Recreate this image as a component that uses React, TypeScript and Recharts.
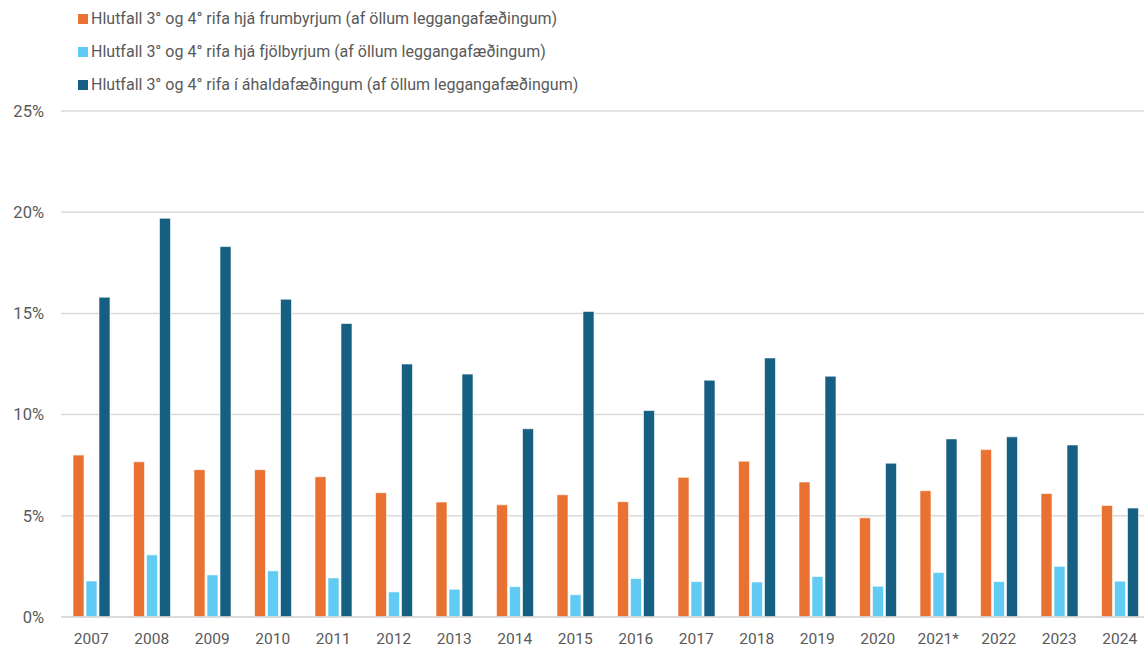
import React from 'react';
import { BarChart, Bar, XAxis, YAxis, CartesianGrid, Legend } from 'recharts';

const years = [
  '2007', '2008', '2009', '2010', '2011', '2012', '2013', '2014', '2015',
  '2016', '2017', '2018', '2019', '2020', '2021*', '2022', '2023', '2024',
];

// Hlutfall 3° og 4° rifa, % af öllum leggangafæðingum
const frumbyrjur = [8.0, 7.67, 7.28, 7.28, 6.93, 6.14, 5.68, 5.54, 6.04, 5.7, 6.9, 7.7, 6.67, 4.9, 6.24, 8.27, 6.1, 5.51];
const fjolbyrjur = [1.78, 3.07, 2.08, 2.28, 1.93, 1.24, 1.37, 1.5, 1.1, 1.9, 1.75, 1.73, 2.0, 1.52, 2.2, 1.75, 2.5, 1.77];
const ahaldafaedingar = [15.8, 19.7, 18.3, 15.7, 14.5, 12.5, 12.0, 9.3, 15.1, 10.2, 11.7, 12.8, 11.9, 7.6, 8.8, 8.9, 8.5, 5.38];

const yTicks = [0, 5, 10, 15, 20, 25];

const seriesNames = [
  'Hlutfall 3° og 4° rifa hjá frumbyrjum (af öllum leggangafæðingum)',
  'Hlutfall 3° og 4° rifa hjá fjölbyrjum (af öllum leggangafæðingum)',
  'Hlutfall 3° og 4° rifa í áhaldafæðingum (af öllum leggangafæðingum)',
];
const colors = ['#E97132', '#61CBF3', '#156082'];

const data = years.map((year, i) => ({
  year,
  frum: frumbyrjur[i],
  fjol: fjolbyrjur[i],
  ahald: ahaldafaedingar[i],
}));

const FONT = 'Roboto, "Liberation Sans", sans-serif';

const renderLegend = () => (
  <div style={{ fontFamily: FONT, fontSize: 16, color: '#595959' }}>
    {seriesNames.map((name, i) => (
      <div key={name} style={{ display: 'flex', alignItems: 'center', height: 33 }}>
        <span
          style={{
            display: 'inline-block',
            width: 10,
            height: 10,
            background: colors[i],
            marginRight: 3,
          }}
        />
        <span>{name}</span>
      </div>
    ))}
  </div>
);

export default function App() {
  return (
    <div style={{ position: 'absolute', left: 0, top: 0, width: 1144, height: 655, overflow: 'hidden', background: '#fff' }}>
      <BarChart
        width={1152}
        height={655}
        data={data}
        margin={{ top: 111, right: 2, left: 0, bottom: 8 }}
        barGap={2}
        barSize={11}
      >
        <CartesianGrid vertical={false} stroke="#d9d9d9" strokeWidth={1.5} />
        <XAxis
          dataKey="year"
          height={30}
          axisLine={{ stroke: '#d9d9d9', strokeWidth: 1.5 }}
          tickLine={false}
          tickMargin={10}
          interval={0}
          tick={{ fill: '#595959', fontSize: 15.5, fontFamily: FONT }}
        />
        <YAxis
          width={61}
          domain={[0, 25]}
          ticks={yTicks}
          axisLine={false}
          tickLine={false}
          tickMargin={11}
          tickFormatter={(v: number) => `${v}%`}
          tick={{ fill: '#595959', fontSize: 16.5, fontFamily: FONT }}
        />
        <Legend
          layout="vertical"
          verticalAlign="middle"
          align="center"
          content={renderLegend}
          wrapperStyle={{ top: 2, left: 78, width: 700 }}
        />
        <Bar dataKey="frum" name={seriesNames[0]} fill={colors[0]} stroke="#fff" strokeWidth={0.6} isAnimationActive={false} />
        <Bar dataKey="fjol" name={seriesNames[1]} fill={colors[1]} stroke="#fff" strokeWidth={0.6} isAnimationActive={false} />
        <Bar dataKey="ahald" name={seriesNames[2]} fill={colors[2]} stroke="#fff" strokeWidth={0.6} isAnimationActive={false} />
      </BarChart>
    </div>
  );
}
